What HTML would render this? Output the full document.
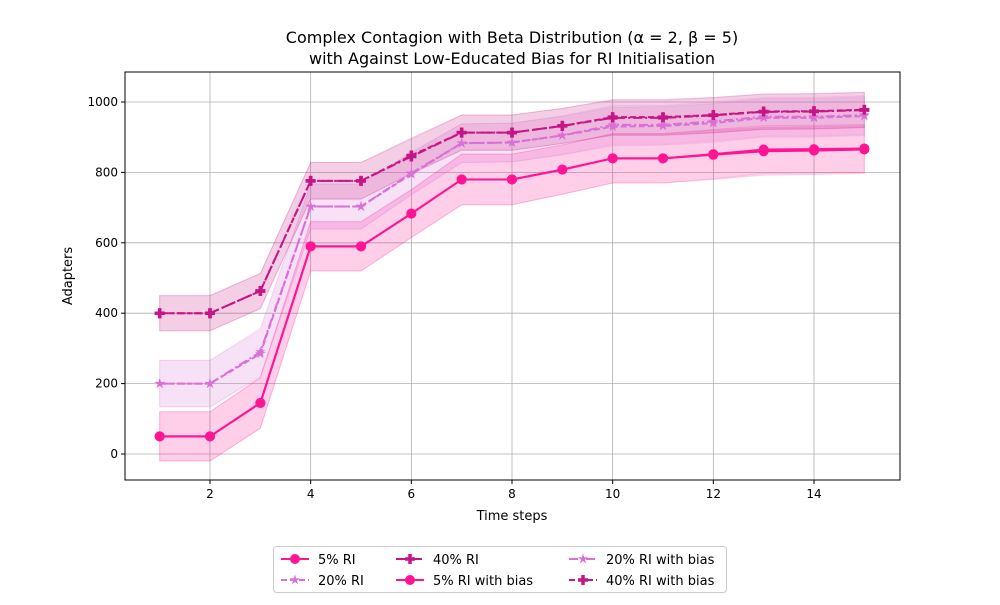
<!DOCTYPE html>
<html><head><meta charset="utf-8"><style>
body{margin:0;background:#fff;font-family:"Liberation Sans","DejaVu Sans",sans-serif}
</style></head><body>
<svg id="c" width="1000" height="600" xmlns="http://www.w3.org/2000/svg" font-family="DejaVu Sans, Liberation Sans, sans-serif">
<rect width="1000" height="600" fill="#fff"/>
<text x="512" y="43" text-anchor="middle" font-size="16">Complex Contagion with Beta Distribution (α = 2, β = 5)</text>
<text x="512" y="64" text-anchor="middle" font-size="16">with Against Low-Educated Bias for RI Initialisation</text>
<g id="grid"></g><g id="bands"></g><g id="lines"></g><g id="axes"></g>
<text x="512" y="520" text-anchor="middle" font-size="13">Time steps</text>
<text transform="translate(72,276) rotate(-90)" text-anchor="middle" font-size="13">Adapters</text>
<g id="legend"></g>
</svg>
<script>
const steps=[1,2,3,4,5,6,7,8,9,10,11,12,13,14,15];
const ri5=[50,50,145,590,590,683,780,780,808,840,840,850,860,862,865];
const ri5b=[50,50,145,590,590,683,780,780,808,840,840,852,865,866,868];
const ri20=[200,200,285,703,703,795,883,885,905,930,932,940,955,955,960];
const ri20b=[200,200,290,703,703,798,883,885,905,935,935,945,958,958,963];
const ri40=[400,400,463,776,776,845,913,913,932,955,955,962,972,973,977];
const ri40b=[400,400,463,776,776,848,913,913,932,957,957,963,973,974,978];
const sd5=[70,70,72,70,70,68,72,72,70,70,70,70,68,68,68];
const sd20=[66,66,68,64,64,60,55,55,55,55,55,55,55,55,55];
const sd40=[50,50,50,52,52,50,50,50,50,50,50,50,50,50,50];
const xTicks=[2,4,6,8,10,12,14];
const yTicks=[0,200,400,600,800,1000];
const L=125,R=900,T=72,B=480;
const X=v=>210+(v-2)*(604/12);
const Y=v=>454-v*0.352;
const ns="http://www.w3.org/2000/svg";
function mk(p,t,a){const e=document.createElementNS(ns,t);for(const k in a)e.setAttribute(k,a[k]);document.getElementById(p).appendChild(e);return e;}
xTicks.forEach(t=>{
 const g=mk('grid','line',{x1:X(t),x2:X(t),y1:T,y2:B,stroke:'#b0b0b0','stroke-width':0.8});
 
 
 mk('axes','line',{x1:X(t),x2:X(t),y1:B,y2:B+4,stroke:'#000'});
 const tx=mk('axes','text',{x:X(t),y:B+18,'text-anchor':'middle','font-size':12});tx.textContent=t;
 
 
});
yTicks.forEach(t=>{
 const g=mk('grid','line',{x1:L,x2:R,y1:Y(t),y2:Y(t),stroke:'#b0b0b0','stroke-width':0.8});
 
 
 mk('axes','line',{x1:L-4,x2:L,y1:Y(t),y2:Y(t),stroke:'#000'});
 const tx=mk('axes','text',{x:L-7,y:Y(t)+4,'text-anchor':'end','font-size':12});tx.textContent=t;
 
 
});
const fr=mk('axes','rect',{x:L,y:T,width:R-L,height:B-T,fill:'none',stroke:'#000','stroke-width':1});


const series=[
 {n:'5% RI',d:ri5,s:sd5,c:'#ff1493',dash:'',m:'o',name:'series-5-ri',fo:0.14},
 {n:'20% RI',d:ri20,s:sd20,c:'#da70d6',dash:'6,3',m:'*',name:'series-20-ri',fo:0.14},
 {n:'40% RI',d:ri40,s:sd40,c:'#c71585',dash:'9,3,2,3',m:'+',name:'series-40-ri',fo:0.14},
 {n:'5% RI with bias',d:ri5b,s:sd5,c:'#ff1493',dash:'',m:'o',name:'series-5-ri-bias',fo:0.08},
 {n:'20% RI with bias',d:ri20b,s:sd20,c:'#da70d6',dash:'9,3,2,3',m:'*',name:'series-20-ri-bias',fo:0.08},
 {n:'40% RI with bias',d:ri40b,s:sd40,c:'#c71585',dash:'6,3',m:'+',name:'series-40-ri-bias',fo:0.08}];
function marker(p,m,x,y,c){
 let e;
 if(m==='o')e=mk(p,'circle',{cx:x,cy:y,r:5,fill:c});
 else if(m==='+')e=mk(p,'path',{d:`M${x-5},${y}H${x+5}M${x},${y-5}V${y+5}`,stroke:c,'stroke-width':3.5});
 else{let pts=[];for(let i=0;i<10;i++){const r=i%2?2:5.5,a=-Math.PI/2+i*Math.PI/5;pts.push((x+r*Math.cos(a)).toFixed(1)+','+(y+r*Math.sin(a)).toFixed(1));}
  e=mk(p,'polygon',{points:pts.join(' '),fill:c});}
 return e;
}
series.forEach(s=>{
 const up=steps.map((t,i)=>X(t)+','+Y(s.d[i]+s.s[i]));
 const lo=steps.map((t,i)=>X(t)+','+Y(s.d[i]-s.s[i])).reverse();
 const b=mk('bands','polygon',{points:up.concat(lo).join(' '),fill:s.c,'fill-opacity':s.fo,stroke:s.c,'stroke-opacity':0.15});
 
 
});
series.forEach(s=>{
 const l=mk('lines','polyline',{points:steps.map((t,i)=>X(t)+','+Y(s.d[i])).join(' '),fill:'none',stroke:s.c,'stroke-width':2,'stroke-dasharray':s.dash});
 
 
 steps.forEach((t,i)=>{const e=marker('lines',s.m,X(t),Y(s.d[i]),s.c);
  
  });
});
const lb=mk('legend','rect',{x:273.5,y:546.5,width:453,height:46,rx:3,fill:'#fff',stroke:'#ccc'});


const lpos=[[278,559],[278,580],[393,559],[393,580],[566,559],[566,580]];
series.forEach((s,i)=>{
 const [x,y]=lpos[i];
 mk('legend','line',{x1:x+3,x2:x+31,y1:y,y2:y,stroke:s.c,'stroke-width':2,'stroke-dasharray':s.dash});
 marker('legend',s.m,x+17,y,s.c);
 const t=mk('legend','text',{x:x+40,y:y+5,'font-size':13});t.textContent=s.n;
 
 
});
</script>
</body></html>
